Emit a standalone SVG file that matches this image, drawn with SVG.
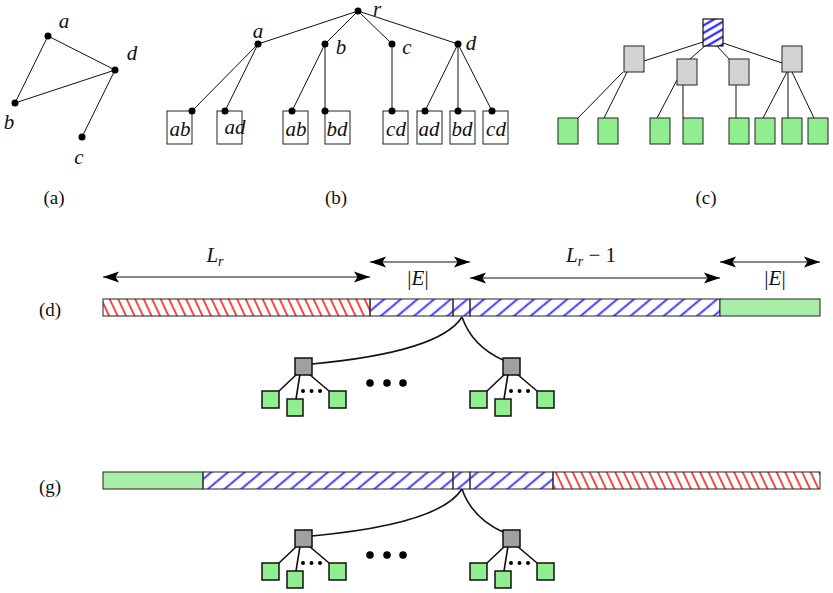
<svg xmlns="http://www.w3.org/2000/svg" width="833" height="593" viewBox="0 0 833 593">
<style>
text{font-family:"Liberation Serif","DejaVu Serif",serif;fill:#111}
.cap{font-size:19px;text-anchor:middle}
.lbl{font-style:italic;font-size:21px;text-anchor:middle}
.e{stroke:#111;stroke-width:1;fill:none}
.dot{fill:#000}
.wbox{fill:#fff;stroke:#222;stroke-width:1}
.gbox{fill:#d3d3d3;stroke:#222;stroke-width:1}
.lbox{fill:#90ee90;stroke:#222;stroke-width:1}
.te{stroke:#111;stroke-width:1.6;fill:none}
.troot{fill:#a0a0a0;stroke:#111;stroke-width:1.5}
.tleaf{fill:#90ee90;stroke:#111;stroke-width:1.5}
.bar{stroke:#222;stroke-width:1}
.arr{stroke:#111;stroke-width:1.1;fill:none;marker-start:url(#ah);marker-end:url(#ah)}
</style>
<defs>
<marker id="ah" markerUnits="userSpaceOnUse" markerWidth="17" markerHeight="12" refX="16" refY="6" orient="auto-start-reverse" viewBox="0 0 17 12">
<path d="M0,0.5 L16,6 L0,11.5 L3.5,6 z" fill="#000"/>
</marker>
<pattern id="red" width="10" height="7.7" patternUnits="userSpaceOnUse" patternTransform="rotate(65)">
<line x1="-1" y1="3.85" x2="11" y2="3.85" stroke="#ff2a2a" stroke-width="1.7"/>
</pattern>
<pattern id="blue" width="10" height="10.7" patternUnits="userSpaceOnUse" patternTransform="rotate(-40)">
<line x1="-1" y1="5.35" x2="11" y2="5.35" stroke="#2a2aff" stroke-width="1.8"/>
</pattern>
<pattern id="blue2" width="10" height="6.5" patternUnits="userSpaceOnUse" patternTransform="rotate(-30)">
<line x1="-1" y1="3.25" x2="11" y2="3.25" stroke="#1010ff" stroke-width="2"/>
</pattern>
<g id="tree">
<path class="te" d="M297,374 L279,391 M300,374 L296,399 M309,374 L329,391"/>
<rect class="troot" x="295" y="358" width="17" height="17"/>
<rect class="tleaf" x="262" y="391" width="17" height="17"/>
<rect class="tleaf" x="287" y="399" width="16" height="17"/>
<rect class="tleaf" x="329" y="391" width="17" height="17"/>
<circle class="dot" cx="303" cy="391" r="2"/>
<circle class="dot" cx="311.5" cy="391" r="2"/>
<circle class="dot" cx="320" cy="391" r="2"/>
</g>
</defs>

<!-- (a) -->
<g id="graph-a">
<g id="a-edges">
<path class="e" d="M48,36 L115,70 M48,36 L15,103 M15,103 L115,70 M115,70 L82,137"/>
</g>
<g id="a-node-a"><circle class="dot" cx="48" cy="36" r="3.5"/><text class="lbl" x="64" y="28">a</text></g>
<g id="a-node-d"><circle class="dot" cx="115" cy="70" r="3.5"/><text class="lbl" x="132" y="60">d</text></g>
<g id="a-node-b"><circle class="dot" cx="15" cy="103" r="3.5"/><text class="lbl" x="9" y="129">b</text></g>
<g id="a-node-c"><circle class="dot" cx="82" cy="137" r="3.5"/><text class="lbl" x="79" y="164">c</text></g>
<text class="cap" x="54" y="204">(a)</text>
</g>

<!-- (b) -->
<g id="tree-b">
<g id="b-edges">
<path class="e" d="M358,11 L258,44 M358,11 L325,44 M358,11 L392,44 M358,11 L458,44 M258,44 L192,111 M258,44 L225,111 M325,44 L292,111 M325,44 L325,111 M392,44 L392,111 M458,44 L425,111 M458,44 L458,111 M458,44 L492,111"/>
</g>
<g id="b-leaf1"><rect class="wbox" x="167" y="111" width="25" height="33"/><text class="lbl" x="180" y="136">ab</text></g>
<g id="b-leaf2"><rect class="wbox" x="217" y="111" width="25" height="33"/><text class="lbl" x="235" y="134">ad</text></g>
<g id="b-leaf3"><rect class="wbox" x="283" y="111" width="25" height="33"/><text class="lbl" x="296" y="136">ab</text></g>
<g id="b-leaf4"><rect class="wbox" x="325" y="111" width="25" height="33"/><text class="lbl" x="337" y="136">bd</text></g>
<g id="b-leaf5"><rect class="wbox" x="383" y="111" width="25" height="33"/><text class="lbl" x="396" y="136">cd</text></g>
<g id="b-leaf6"><rect class="wbox" x="417" y="111" width="25" height="33"/><text class="lbl" x="429" y="136">ad</text></g>
<g id="b-leaf7"><rect class="wbox" x="450" y="111" width="25" height="33"/><text class="lbl" x="462" y="136">bd</text></g>
<g id="b-leaf8"><rect class="wbox" x="483" y="111" width="25" height="33"/><text class="lbl" x="496" y="136">cd</text></g>
<g id="b-dots">
<circle class="dot" cx="358" cy="11" r="3.5"/>
<circle class="dot" cx="258" cy="44" r="3.5"/>
<circle class="dot" cx="325" cy="44" r="3.5"/>
<circle class="dot" cx="392" cy="44" r="3.5"/>
<circle class="dot" cx="458" cy="44" r="3.5"/>
<circle class="dot" cx="192" cy="111" r="3.5"/>
<circle class="dot" cx="225" cy="111" r="3.5"/>
<circle class="dot" cx="292" cy="111" r="3.5"/>
<circle class="dot" cx="325" cy="111" r="3.5"/>
<circle class="dot" cx="392" cy="111" r="3.5"/>
<circle class="dot" cx="425" cy="111" r="3.5"/>
<circle class="dot" cx="458" cy="111" r="3.5"/>
<circle class="dot" cx="492" cy="111" r="3.5"/>
</g>
<text class="lbl" x="377" y="16">r</text>
<text class="lbl" x="258" y="38">a</text>
<text class="lbl" x="341" y="54">b</text>
<text class="lbl" x="407" y="54">c</text>
<text class="lbl" x="471" y="50">d</text>
<text class="cap" x="336" y="204">(b)</text>
</g>

<!-- (c) -->
<g id="tree-c">
<g id="c-edges">
<path class="e" d="M703,42 L644,61 M705,46 L690,59 M717,46 L729,59 M723,43 L782,63 M623,72 L578,118 M627,72 L604,118 M677,80 L657,118 M683,85 L683,118 M736,85 L736,118 M787,72 L763,118 M788,72 L788,118 M792,72 L814,118"/>
</g>
<g id="c-root"><rect x="703" y="19" width="20" height="27" fill="#fff"/><rect x="703" y="19" width="20" height="27" fill="url(#blue2)" stroke="#111" stroke-width="1.2"/></g>
<g id="c-n1"><rect class="gbox" x="624" y="46" width="20" height="26"/></g>
<g id="c-n2"><rect class="gbox" x="677" y="59" width="20" height="26"/></g>
<g id="c-n3"><rect class="gbox" x="729" y="59" width="20" height="26"/></g>
<g id="c-n4"><rect class="gbox" x="782" y="46" width="20" height="26"/></g>
<g id="c-l1"><rect class="lbox" x="558" y="118" width="20" height="26"/></g>
<g id="c-l2"><rect class="lbox" x="598" y="118" width="20" height="26"/></g>
<g id="c-l3"><rect class="lbox" x="650" y="118" width="20" height="26"/></g>
<g id="c-l4"><rect class="lbox" x="683" y="118" width="20" height="26"/></g>
<g id="c-l5"><rect class="lbox" x="729" y="118" width="20" height="26"/></g>
<g id="c-l6"><rect class="lbox" x="755" y="118" width="20" height="26"/></g>
<g id="c-l7"><rect class="lbox" x="782" y="118" width="20" height="26"/></g>
<g id="c-l8"><rect class="lbox" x="808" y="118" width="20" height="26"/></g>
<text class="cap" x="706" y="204">(c)</text>
</g>

<!-- dimension arrows -->
<g id="dims">
<line class="arr" x1="103" y1="277" x2="370" y2="277"/>
<line class="arr" x1="370" y1="262" x2="470" y2="262"/>
<line class="arr" x1="470" y1="278" x2="720" y2="278"/>
<line class="arr" x1="720" y1="262" x2="820" y2="262"/>
<text x="215" y="262" text-anchor="middle" font-size="21"><tspan font-style="italic">L</tspan><tspan font-style="italic" font-size="14" dy="4">r</tspan></text>
<text x="418" y="285" text-anchor="middle" font-size="21">|<tspan font-style="italic">E</tspan>|</text>
<text x="591" y="262" text-anchor="middle" font-size="21"><tspan font-style="italic">L</tspan><tspan font-style="italic" font-size="14" dy="4">r</tspan><tspan dy="-4"> − 1</tspan></text>
<text x="775" y="285" text-anchor="middle" font-size="21">|<tspan font-style="italic">E</tspan>|</text>
</g>

<!-- (d) bar -->
<g id="bar-d">
<rect x="103" y="299" width="717" height="17" fill="#fff"/>
<rect class="bar" x="103" y="299" width="267" height="17" fill="url(#red)"/>
<rect class="bar" x="370" y="299" width="83" height="17" fill="url(#blue)"/>
<rect class="bar" x="453" y="299" width="17" height="17" fill="url(#blue)"/>
<rect class="bar" x="470" y="299" width="250" height="17" fill="url(#blue)"/>
<rect class="bar" x="720" y="299" width="100" height="17" fill="#a8eea8"/>
<text class="cap" x="50" y="316">(d)</text>
</g>
<g id="connectors-d">
<path class="te" d="M462,317 Q440,352 312,364"/>
<path class="te" d="M462,317 Q472,346 503,360"/>
</g>
<g id="trees-d">
<use href="#tree"/>
<use href="#tree" x="208"/>
<circle class="dot" cx="370" cy="383" r="3.8"/>
<circle class="dot" cx="387" cy="383" r="3.8"/>
<circle class="dot" cx="403" cy="383" r="3.8"/>
</g>

<!-- (g) bar -->
<g id="bar-g">
<rect x="103" y="472" width="717" height="17" fill="#fff"/>
<rect class="bar" x="103" y="472" width="100" height="17" fill="#a8eea8"/>
<rect class="bar" x="203" y="472" width="250" height="17" fill="url(#blue)"/>
<rect class="bar" x="453" y="472" width="17" height="17" fill="url(#blue)"/>
<rect class="bar" x="470" y="472" width="83" height="17" fill="url(#blue)"/>
<rect class="bar" x="553" y="472" width="267" height="17" fill="url(#red)"/>
<text class="cap" x="50" y="493">(g)</text>
</g>
<g id="connectors-g">
<path class="te" d="M462,489 Q440,524 312,536"/>
<path class="te" d="M462,489 Q472,518 503,532"/>
</g>
<g id="trees-g">
<use href="#tree" y="172"/>
<use href="#tree" x="208" y="172"/>
<circle class="dot" cx="370" cy="555" r="3.8"/>
<circle class="dot" cx="387" cy="555" r="3.8"/>
<circle class="dot" cx="403" cy="555" r="3.8"/>
</g>
</svg>
